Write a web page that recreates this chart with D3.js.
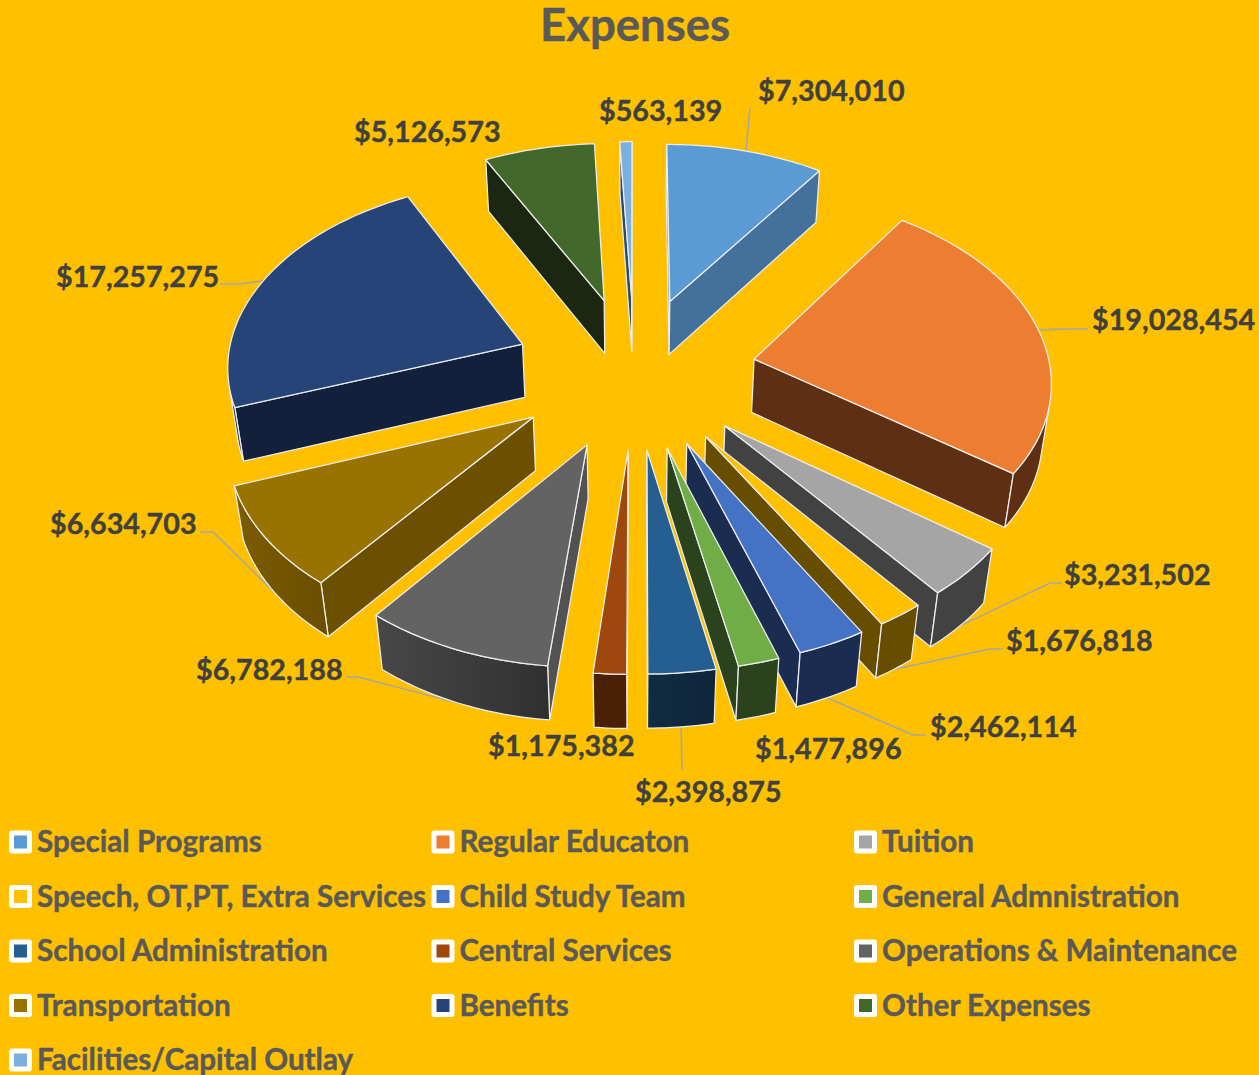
<!DOCTYPE html>
<html>
<head>
<meta charset="utf-8">
<script src="https://cdn.jsdelivr.net/npm/d3@7"></script>
<style>
  html, body { margin: 0; padding: 0; background: #FFC000; }
  svg { display: block; }
  text { font-family: Lato, "Open Sans", sans-serif; font-weight: 700; stroke-width: 0.4; }
</style>
</head>
<body>
<svg id="chart" width="1259" height="1075"></svg>
<script>
var categories = ['Special Programs', 'Regular Educaton', 'Tuition',
  'Speech, OT,PT, Extra Services', 'Child Study Team', 'General Admnistration',
  'School Administration', 'Central Services', 'Operations & Maintenance',
  'Transportation', 'Benefits', 'Other Expenses', 'Facilities/Capital Outlay'];
var values = [7304010, 19028454, 3231502, 1676818, 2462114, 1477896, 2398875,
  1175382, 6782188, 6634703, 17257275, 5126573, 563139];

var topColors = ['#5B9BD5', '#ED7D31', '#A5A5A5', '#FFC000', '#4472C4', '#70AD47',
  '#255E91', '#9E480E', '#636363', '#997300', '#264478', '#43682B', '#7CAFDD'];
var wallColors = ['#44719B', '#5F2F14', '#424242', '#664D00', '#1A2C50', '#2B431D',
  '#0F2A40', '#4A2006', '#525252', '#6C5000', '#12203B', '#1B2710', '#2D4A6A'];
var rimLeft = ['#44719B', '#5F2F14', '#424242', '#664D00', '#1A2C50', '#2B431D',
  '#102B42', '#4A2006', '#484848', '#7C5C00', '#12203B', '#1B2710', '#2D4A6A'];
var rimRight = ['#44719B', '#5F2F14', '#424242', '#664D00', '#1A2C50', '#2B431D',
  '#0F263B', '#4A2006', '#303030', '#6A4E00', '#12203B', '#1B2710', '#2D4A6A'];

// label text position, then leader: elbow points, which face edge it lands on (0 top, 1 bottom)
var labelX = [758, 1092, 1064, 1006, 930, 755, 635, 488, 196, 50, 56, 354, 599];
var labelY = [101, 330, 585, 651, 737, 759, 802, 756, 680, 534, 287, 142, 121];
var leaders = [
  [[750, 108]], [[1088, 329], [1068, 329]], [[1062, 583], [1050, 583]],
  [[1003, 649], [990, 649]], [[925, 735], [913, 735]], null, [[682, 770]], null,
  [[346, 677], [358, 677]], [[200, 532], [213, 532]], [[220, 284], [240, 284]], null, null
];
var leaderEdge = [0, 0, 1, 1, 1, 0, 1, 0, 1, 1, 0, 0, 0];

var svg = d3.select('#chart');
var money = d3.format('$,');

// perspective view of the pie plane, fitted to the picture
var cx = 634.5, cy = 371.5;
var scaleU = 122, scaleV = 76.2, persp = 0.04;
var drop = 54.5, dropW = 0.0217;
var explode = 1, radius = 2.43;

function project(u, v, z) {
  var w = 1 - persp * v + dropW * z;
  return [cx + scaleU * u / w, cy + (scaleV * v + drop * z) / w];
}

var pie = d3.pie().sort(null).value(function(d) { return d; });
var arcs = pie(values);

function sliceOutline(d) {
  var mid = (d.startAngle + d.endAngle) / 2;
  var ox = explode * Math.sin(mid), oy = -explode * Math.cos(mid);
  var steps = Math.max(2, Math.ceil((d.endAngle - d.startAngle) / 0.02));
  var pts = d3.range(steps + 1).map(function(i) {
    var a = d.startAngle + (d.endAngle - d.startAngle) * i / steps;
    return [ox + radius * Math.sin(a), oy - radius * Math.cos(a)];
  });
  return { tip: [ox, oy], rim: pts, mid: mid, oy: oy };
}

var line = d3.line();

function facePath(a, b, z) {
  return [project(a[0], a[1], 0), project(b[0], b[1], 0),
          project(b[0], b[1], z), project(a[0], a[1], z)];
}

var defs = svg.append('defs');
var leaderLayer = svg.append('g');
var pieLayer = svg.append('g');
var edgeColor = '#EDEDED';
var edgeWidth = 1.25;

var slices = arcs.map(function(d, i) {
  var o = sliceOutline(d);
  o.i = i;
  return o;
}).sort(function(a, b) { return a.oy - b.oy; });

slices.forEach(function(s) {
  var g = pieLayer.append('g');
  var i = s.i;
  var first = s.rim[0], last = s.rim[s.rim.length - 1];

  // radial walls, only where they face us
  [[s.tip, first], [last, s.tip]].forEach(function(e) {
    var quad = facePath(e[0], e[1], 1);
    if (d3.polygonArea(quad) > 0) {
      g.append('path')
        .attr('d', line(quad) + 'Z')
        .attr('fill', wallColors[i])
        .attr('stroke', edgeColor)
        .attr('stroke-width', edgeWidth)
        .attr('stroke-linejoin', 'round');
    }
  });

  // outer rim
  var front = [];
  d3.pairs(s.rim).forEach(function(p) {
    if (d3.polygonArea(facePath(p[0], p[1], 1)) > 0) {
      if (!front.length) front.push(p[0]);
      front.push(p[1]);
    }
  });
  if (front.length) {
    var upper = front.map(function(p) { return project(p[0], p[1], 0); });
    var lower = front.map(function(p) { return project(p[0], p[1], 1); }).reverse();
    var grad = defs.append('linearGradient').attr('id', 'rim' + i);
    grad.append('stop').attr('offset', '0%').attr('stop-color', rimLeft[i]);
    grad.append('stop').attr('offset', '100%').attr('stop-color', rimRight[i]);
    g.append('path')
      .attr('d', line(upper.concat(lower)) + 'Z')
      .attr('fill', 'url(#rim' + i + ')')
      .attr('stroke', edgeColor)
      .attr('stroke-width', edgeWidth)
      .attr('stroke-linejoin', 'round');
  }

  // top face
  var face = [s.tip].concat(s.rim).map(function(p) { return project(p[0], p[1], 0); });
  g.append('path')
    .attr('d', line(face) + 'Z')
    .attr('fill', topColors[i])
    .attr('stroke', edgeColor)
    .attr('stroke-width', edgeWidth)
    .attr('stroke-linejoin', 'round');
});

// leader lines
arcs.forEach(function(d, i) {
  if (!leaders[i]) return;
  var s = sliceOutline(d);
  var end = project(s.tip[0] + radius * Math.sin(s.mid), s.tip[1] - radius * Math.cos(s.mid), leaderEdge[i]);
  leaderLayer.append('path')
    .attr('d', line(leaders[i].concat([end])))
    .attr('fill', 'none')
    .attr('stroke', '#A6A6A6')
    .attr('stroke-width', 1.5);
});

// value labels
svg.append('g').selectAll('text')
  .data(values)
  .enter()
  .append('text')
  .attr('x', function(d, i) { return labelX[i]; })
  .attr('y', function(d, i) { return labelY[i]; })
  .attr('font-size', 28.7)
  .attr('fill', '#404040')
  .attr('stroke', '#404040')
  .text(function(d) { return money(d); });

svg.append('text')
  .attr('x', 635)
  .attr('y', 41)
  .attr('text-anchor', 'middle')
  .attr('font-size', 45.5)
  .attr('fill', '#595959')
  .attr('stroke', '#595959')
  .text('Expenses');

// legend, three columns
var colX = d3.scalePoint().domain([0, 1, 2]).range([9, 854]);
var rowY = d3.scalePoint().domain([0, 1, 2, 3, 4]).range([842, 1060]);

var legend = svg.append('g').selectAll('g')
  .data(categories)
  .enter()
  .append('g')
  .attr('transform', function(d, i) {
    return 'translate(' + colX(i % 3) + ',' + rowY(Math.floor(i / 3)) + ')';
  });

legend.append('rect')
  .attr('x', 0).attr('y', -11.5)
  .attr('width', 23).attr('height', 23)
  .attr('rx', 3)
  .attr('fill', '#fff');

legend.append('rect')
  .attr('x', 5).attr('y', -6.5)
  .attr('width', 13).attr('height', 13)
  .attr('fill', function(d, i) { return topColors[i]; });

legend.append('text')
  .attr('x', 28)
  .attr('y', 10)
  .attr('font-size', 29.6)
  .attr('fill', '#595959')
  .attr('stroke', '#595959')
  .text(function(d) { return d; });
</script>
</body>
</html>
